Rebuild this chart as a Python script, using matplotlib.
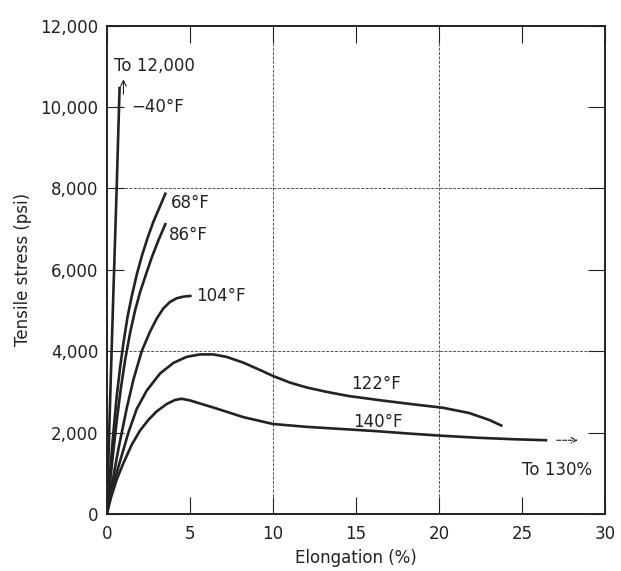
import numpy as np
import matplotlib.pyplot as plt

# --- data (elongation %, tensile stress psi) ---
x_m40 = [0, 0.2, 0.4, 0.6, 0.77]
y_m40 = [0, 2800, 5500, 8100, 10500]

x_68 = [0, 0.15, 0.3, 0.45, 0.6, 0.8, 1.0, 1.25, 1.5, 1.8, 2.1, 2.45, 2.8, 3.2, 3.55]
y_68 = [0, 800, 1550, 2250, 2900, 3600, 4200, 4850, 5350, 5880, 6330, 6780, 7180, 7560, 7900]

x_86 = [0, 0.2, 0.4, 0.6, 0.85, 1.1, 1.4, 1.7, 2.0, 2.35, 2.7, 3.1, 3.55]
y_86 = [0, 800, 1570, 2300, 3100, 3780, 4450, 5000, 5450, 5880, 6300, 6720, 7150]

x_104 = [0, 0.3, 0.7, 1.2, 1.6, 2.1, 2.6, 3.0, 3.4, 3.8, 4.2, 4.6, 5.1]
y_104 = [0, 700, 1600, 2600, 3300, 4000, 4480, 4800, 5050, 5210, 5300, 5340, 5360]

x_122 = [0, 0.3, 0.8, 1.3, 1.8, 2.4, 3.2, 4.0, 4.8, 5.6, 6.4, 7.2, 8.2, 9.2,
         10.0, 11.0, 12.0, 13.1, 14.5, 16.5, 18.5, 20.2, 21.8, 23.0, 23.8]
y_122 = [0, 600, 1300, 2000, 2580, 3030, 3450, 3710, 3860, 3920, 3920, 3860,
         3720, 3540, 3390, 3230, 3110, 3010, 2900, 2790, 2690, 2610, 2480, 2310, 2160]

x_140 = [0, 0.25, 0.6, 1.0, 1.5, 2.0, 2.5, 3.0, 3.6, 4.1, 4.5, 5.0, 5.8, 6.6, 8.2,
         10.0, 12.0, 14.0, 16.0, 18.0, 20.2, 22.4, 24.5, 26.5]
y_140 = [0, 400, 850, 1250, 1700, 2050, 2310, 2520, 2700, 2800, 2830, 2790, 2690, 2590, 2380,
         2210, 2140, 2090, 2040, 1980, 1920, 1870, 1835, 1810]

curves = [(x_m40, y_m40), (x_68, y_68), (x_86, y_86),
          (x_104, y_104), (x_122, y_122), (x_140, y_140)]

x_ticks = [0, 5, 10, 15, 20, 25, 30]
y_ticks = [0, 2000, 4000, 6000, 8000, 10000, 12000]
y_ticklabels = ["0", "2,000", "4,000", "6,000", "8,000", "10,000", "12,000"]

plt.rcParams['font.family'] = ['DejaVu Sans']
ink = "#222222"

fig = plt.figure(figsize=(6.21, 5.71), dpi=100)
ax = fig.add_axes([0.172, 0.10, 0.803, 0.855])

# grid lines only at 10, 20 and 4000, 8000
for gx in [10, 20]:
    ax.axvline(gx, color="#555555", lw=0.7, ls=(0, (3, 1.5)), zorder=1)
for gy in [4000, 8000]:
    ax.axhline(gy, color="#555555", lw=0.7, ls=(0, (3, 1.5)), zorder=1)

for xs, ys in curves:
    ax.plot(xs, ys, color=ink, lw=1.9, solid_capstyle="butt",
            solid_joinstyle="round", zorder=3)

# annotations
ax.annotate("", xy=(1.0, 10750), xytext=(1.0, 10250),
            arrowprops=dict(arrowstyle="->", color=ink, lw=0.8))
ax.text(0.45, 11000, "To 12,000", fontsize=12, color=ink, va="center")
ax.text(1.5, 10000, "\u221240\u00b0F", fontsize=12, color=ink, va="center")
ax.text(3.85, 7650, "68\u00b0F", fontsize=12, color=ink, va="center")
ax.text(3.75, 6850, "86\u00b0F", fontsize=12, color=ink, va="center")
ax.text(5.4, 5350, "104\u00b0F", fontsize=12, color=ink, va="center")
ax.text(14.7, 3200, "122\u00b0F", fontsize=12, color=ink, va="center")
ax.text(14.8, 2250, "140\u00b0F", fontsize=12, color=ink, va="center")
ax.annotate("", xy=(28.5, 1810), xytext=(26.9, 1810),
            arrowprops=dict(arrowstyle="->", color=ink, lw=0.8, ls="--"))
ax.text(25.0, 1080, "To 130%", fontsize=12, color=ink, va="center")

ax.set_xlim(0, 30)
ax.set_ylim(0, 12000)
ax.set_xticks(x_ticks)
ax.set_yticks(y_ticks)
ax.set_yticklabels(y_ticklabels)
ax.tick_params(direction="in", length=12, width=0.8, top=True, right=True,
               labelsize=12, colors=ink, pad=6)
ax.tick_params(axis="x", pad=8)
for s in ax.spines.values():
    s.set_linewidth(1.4)
    s.set_color(ink)

ax.set_xlabel("Elongation (%)", fontsize=12, color=ink, labelpad=4)
ax.set_ylabel("Tensile stress (psi)", fontsize=12, color=ink, labelpad=6)

plt.savefig("out.png", dpi=100)
